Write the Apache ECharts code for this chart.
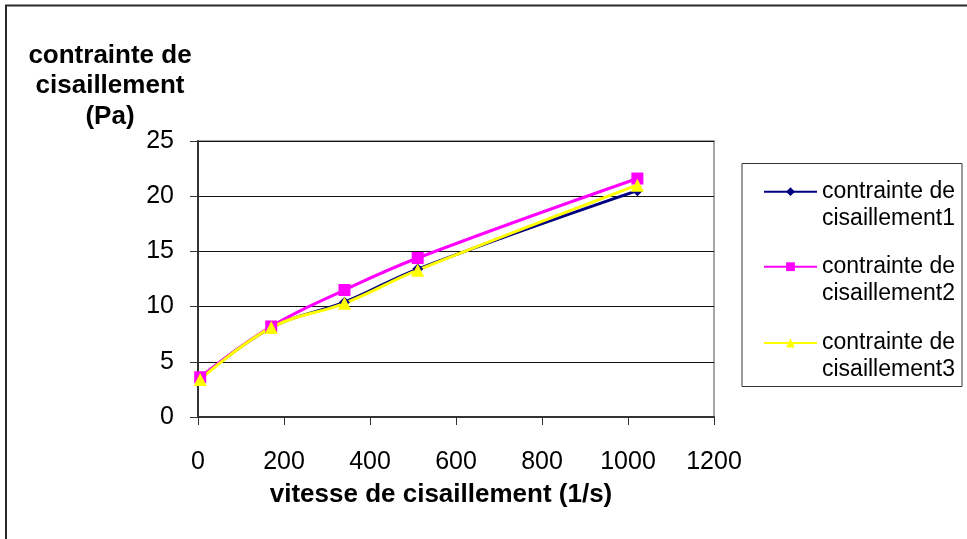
<!DOCTYPE html>
<html>
<head>
<meta charset="utf-8">
<style>
  html, body { margin: 0; padding: 0; background: #fff; }
  #chart { width: 967px; height: 539px; }
</style>
<script src="https://cdn.jsdelivr.net/npm/echarts@6/dist/echarts.min.js"></script>
</head>
<body>
<div id="chart"></div>
<script>
// Shear rates (1/s) of the viscometer readings
const shearRates = [5.1, 170.3, 340.6, 510.9, 1021.8];

// Shear stress (Pa) for three measurement runs
const stress1 = [3.5, 8.1, 10.4, 13.4, 20.5];
const stress2 = [3.6, 8.2, 11.5, 14.4, 21.6];
const stress3 = [3.4, 8.1, 10.3, 13.3, 21.0];

const seriesNames = [
  'contrainte de\ncisaillement1',
  'contrainte de\ncisaillement2',
  'contrainte de\ncisaillement3'
];

const xTitle = 'vitesse de cisaillement (1/s)';
const yTitle = 'contrainte de\ncisaillement\n(Pa)';

const FONT = '"Liberation Sans", Arial, sans-serif';

function pairs(ys) {
  return shearRates.map((x, i) => [x, ys[i]]);
}

const chart = echarts.init(document.getElementById('chart'), null, { renderer: 'canvas' });

// Each legend entry: key aligned with the first text line, second line below it.
const legendLine = 26.5;
function legendFor(name, firstLineY) {
  return {
    data: [name],
    left: 763,
    top: firstLineY - legendLine * 1.5,
    orient: 'vertical',
    padding: 0,
    itemWidth: 53,
    itemHeight: 11,
    itemGap: 0,
    selectedMode: false,
    formatter: n => '\n' + n,
    textStyle: {
      fontFamily: FONT,
      fontSize: 23,
      color: '#000',
      lineHeight: legendLine
    }
  };
}

const option = {
  backgroundColor: '#fff',
  animation: false,
  grid: {
    left: 198,
    top: 141,
    right: 253,
    bottom: 122,
    show: true,
    borderColor: '#a6a6a6',
    borderWidth: 2,
    backgroundColor: 'transparent'
  },
  xAxis: {
    type: 'value',
    min: 0,
    max: 1200,
    interval: 200,
    axisLine: { show: true, lineStyle: { color: '#333', width: 2 } },
    axisTick: { show: true, inside: false, length: 8, lineStyle: { color: '#333', width: 1 } },
    axisLabel: {
      fontFamily: FONT, fontSize: 25, color: '#000', margin: 31, lineHeight: 28,
      formatter: v => String(v)
    },
    splitLine: { show: false }
  },
  yAxis: {
    type: 'value',
    min: 0,
    max: 25,
    interval: 5,
    axisLine: { show: true, lineStyle: { color: '#333', width: 2 } },
    axisTick: { show: true, inside: false, length: 8, lineStyle: { color: '#333', width: 1 } },
    axisLabel: { fontFamily: FONT, fontSize: 25, color: '#000', margin: 24 },
    splitLine: { show: true, lineStyle: { color: '#111', width: 1 } }
  },
  legend: [
    legendFor(seriesNames[0], 191.7),
    legendFor(seriesNames[1], 266.7),
    legendFor(seriesNames[2], 343)
  ],
  graphic: [
    {
      type: 'rect',
      shape: { x: 6, y: 5.5, width: 1000, height: 600 },
      style: { fill: 'none', stroke: '#2a2a2a', lineWidth: 2 },
      silent: true,
      z: 0
    },
    {
      type: 'rect',
      shape: { x: 742, y: 163.5, width: 220, height: 223 },
      style: { fill: 'none', stroke: '#333', lineWidth: 1 },
      silent: true,
      z: 0
    },
    {
      type: 'text',
      style: {
        x: 110,
        y: 40.5,
        text: yTitle,
        fontFamily: FONT,
        fontSize: 26,
        fontWeight: 'bold',
        fill: '#000',
        lineHeight: 30.5,
        align: 'center',
        verticalAlign: 'top'
      },
      silent: true
    },
    {
      type: 'text',
      style: {
        x: 441,
        y: 495,
        text: xTitle,
        fontFamily: FONT,
        fontSize: 26,
        fontWeight: 'bold',
        fill: '#000',
        align: 'center',
        verticalAlign: 'middle'
      },
      silent: true
    }
  ],
  series: [
    {
      name: seriesNames[0],
      type: 'line',
      data: pairs(stress1),
      smooth: 0.4,
      symbol: 'diamond',
      symbolSize: 11,
      lineStyle: { color: '#000080', width: 3 },
      itemStyle: { color: '#000080' }
    },
    {
      name: seriesNames[1],
      type: 'line',
      data: pairs(stress2),
      smooth: 0.4,
      symbol: 'rect',
      symbolSize: 12,
      lineStyle: { color: '#ff00ff', width: 3 },
      itemStyle: { color: '#ff00ff' }
    },
    {
      name: seriesNames[2],
      type: 'line',
      data: pairs(stress3),
      smooth: 0.4,
      symbol: 'triangle',
      symbolSize: 13,
      lineStyle: { color: '#ffff00', width: 3 },
      itemStyle: { color: '#ffff00' }
    }
  ]
};

chart.setOption(option);
</script>
</body>
</html>
